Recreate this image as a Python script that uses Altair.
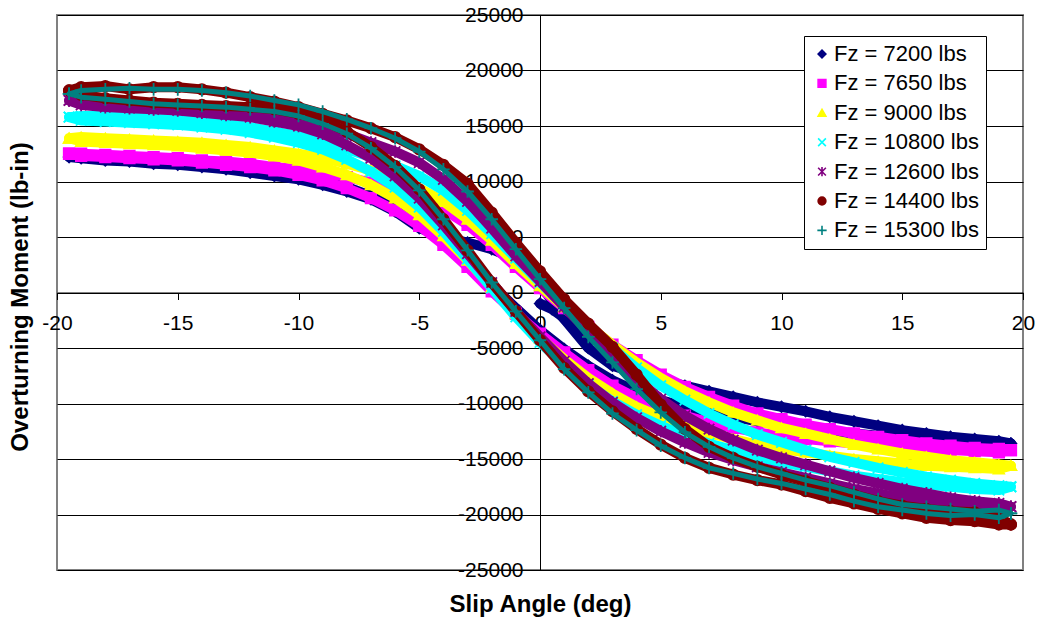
import altair as alt
import pandas as pd

FONT = "Liberation Sans"

# slip angle grid (deg) shared by both sweep branches
slip = [-19.5, -19, -18, -17, -16, -15, -14, -13, -12, -11, -10, -9, -8, -7, -6, -5, -4, -3, -2, -1,
        0, 1, 2, 3, 4, 5, 6, 7, 8, 9, 10, 11, 12, 13, 14, 15, 16, 17, 18, 19, 19.5]

names = ["Fz = 7200 lbs", "Fz = 7650 lbs", "Fz = 9000 lbs", "Fz = 10800 lbs",
         "Fz = 12600 lbs", "Fz = 14400 lbs", "Fz = 15300 lbs"]
colors = ["#000080", "#FF00FF", "#FFFF00", "#00FFFF", "#800080", "#800000", "#008080"]
band_widths = [10, 10, 10, 10, 10, 10, 5]
X_PATH = "M-1,-1L1,1M-1,1L1,-1"
AST_PATH = "M-1,-1L1,1M-1,1L1,-1M0,-1.2L0,1.2"
PLUS_PATH = "M-1.2,0L1.2,0M0,-1.2L0,1.2"
shapes = ["diamond", "square", "triangle-up", X_PATH, AST_PATH, "circle", PLUS_PATH]
fills = ["#000080", "#FF00FF", "#FFFF00", "transparent", "transparent", "#800000", "transparent"]

# overturning moment (lb-in): upper branch / lower branch
m7200_up = [12200, 12100, 11900, 11800, 11600, 11500, 11300, 11100, 10800, 10500, 10200, 9700, 9100, 8400, 7300, 5800, 5000, 4500, 3900, 3000,
            800, -2400, -5000, -6600, -7300, -7800, -8400, -8900, -9400, -9900, -10300, -10700, -11200, -11600, -12000, -12400, -12700, -13000, -13200, -13400, -13600]
m7200_dn = [12200, 12200, 12100, 12000, 11900, 11800, 11600, 11400, 11200, 10900, 10600, 10100, 9500, 8700, 7700, 6400, 4800, 2800, 700, -1400,
            -3400, -5100, -6600, -7900, -8900, -9700, -10300, -10800, -11200, -11600, -11900, -12200, -12500, -12700, -12900, -13100, -13300, -13400, -13500, -13600, -13600]
start_slip = [0, 0.5, 1, 1.5, 2]
m7200_start = [-1000, -1500, -2300, -3300, -4500]

m7650_up = [12500, 12500, 12400, 12300, 12200, 12100, 11900, 11800, 11600, 11300, 11100, 10800, 10400, 9900, 9300, 8500, 7500, 6100, 4300, 2300,
            400, -1400, -3100, -4700, -6100, -7400, -8500, -9400, -10200, -10900, -11400, -11900, -12300, -12700, -13000, -13300, -13600, -13800, -14000, -14100, -14200]
m7650_dn = [12500, 12300, 12200, 12100, 12000, 11900, 11700, 11500, 11300, 11000, 10600, 10100, 9400, 8500, 7400, 6000, 4300, 2300, 100, -1900,
            -3700, -5400, -7000, -8400, -9500, -10400, -11100, -11700, -12200, -12600, -12900, -13200, -13400, -13600, -13800, -14000, -14100, -14200, -14300, -14400, -14200]

m9000_up = [13900, 14000, 13900, 13800, 13700, 13600, 13500, 13300, 13100, 12800, 12500, 12100, 11600, 11000, 10300, 9400, 8200, 6600, 4700, 2600,
            600, -1300, -3000, -4700, -6300, -7700, -8900, -9900, -10800, -11500, -12200, -12700, -13200, -13700, -14100, -14500, -14800, -15100, -15300, -15500, -15600]
m9000_dn = [13900, 13600, 13500, 13400, 13300, 13200, 13000, 12800, 12600, 12300, 11900, 11300, 10600, 9700, 8500, 7000, 5100, 2900, 500, -1900,
            -4100, -6000, -7700, -9100, -10300, -11200, -12000, -12700, -13200, -13700, -14100, -14400, -14700, -15000, -15200, -15400, -15600, -15700, -15800, -15900, -15600]

m10800_up = [15800, 15900, 15900, 15800, 15700, 15600, 15400, 15200, 14900, 14500, 14100, 13500, 12900, 12200, 11400, 10500, 9200, 7400, 5300, 3100,
             900, -1200, -3100, -5000, -6800, -8400, -9700, -10900, -11900, -12800, -13500, -14200, -14800, -15300, -15800, -16200, -16600, -16900, -17200, -17400, -17500]
m10800_dn = [15800, 15500, 15400, 15300, 15200, 15100, 14900, 14700, 14400, 14000, 13500, 12900, 12000, 10900, 9500, 7700, 5500, 3000, 400, -2200,
             -4500, -6500, -8300, -9800, -11000, -12000, -12900, -13600, -14200, -14800, -15300, -15700, -16100, -16500, -16800, -17100, -17300, -17500, -17700, -17800, -17500]

m12600_up = [17300, 17200, 17100, 17000, 16900, 16800, 16700, 16500, 16300, 16000, 15600, 15000, 14300, 13500, 12700, 11700, 10200, 8200, 5800, 3300,
             1000, -1300, -3500, -5700, -7800, -9600, -11100, -12300, -13300, -14200, -14900, -15500, -16100, -16700, -17200, -17700, -18100, -18500, -18800, -19000, -19300]
m12600_dn = [17300, 16900, 16700, 16600, 16500, 16400, 16200, 16000, 15800, 15400, 15000, 14300, 13300, 12100, 10500, 8500, 6100, 3500, 900, -1700,
             -4000, -6200, -8200, -9900, -11300, -12500, -13500, -14400, -15100, -15700, -16200, -16700, -17200, -17700, -18100, -18500, -18800, -19100, -19300, -19500, -19300]

m14400_up = [18200, 18500, 18600, 18300, 18500, 18500, 18300, 18000, 17600, 17200, 16700, 16100, 15500, 14800, 14000, 12900, 11500, 9800, 7200, 4500,
             1900, -600, -2800, -4900, -7400, -10100, -12300, -13900, -14900, -15700, -16400, -17000, -17600, -18200, -18800, -19200, -19500, -19700, -19800, -20300, -20900]
m14400_dn = [18200, 17800, 17500, 17300, 17100, 17000, 16900, 16800, 16700, 16500, 16100, 15500, 14500, 13100, 11400, 9300, 6600, 3800, 900, -1700,
             -4300, -6800, -8900, -10700, -12300, -13700, -14900, -15800, -16400, -16900, -17300, -17900, -18500, -19000, -19500, -19900, -20300, -20500, -20600, -20900, -20900]

m15300_up = [17900, 18200, 18300, 18400, 18300, 18300, 18200, 18000, 17700, 17300, 16900, 16300, 15600, 14800, 13900, 12700, 11100, 9100, 6600, 3900,
             1200, -1400, -4000, -6300, -8700, -10800, -12600, -13900, -14900, -15700, -16300, -16900, -17400, -18000, -18600, -19100, -19300, -19500, -19700, -19600, -19900]
m15300_dn = [17900, 17600, 17400, 17200, 17000, 16900, 16800, 16700, 16500, 16300, 15900, 15200, 14300, 13000, 11300, 9200, 6600, 3800, 900, -1700,
             -4300, -6900, -9000, -10900, -12400, -13800, -14900, -15800, -16300, -16800, -17200, -17700, -18200, -18800, -19300, -19600, -19900, -20100, -20000, -20300, -19900]

branches = [
    [("up", slip, m7200_up), ("down", slip, m7200_dn), ("start", start_slip, m7200_start)],
    [("up", slip, m7650_up), ("down", slip, m7650_dn)],
    [("up", slip, m9000_up), ("down", slip, m9000_dn)],
    [("up", slip, m10800_up), ("down", slip, m10800_dn)],
    [("up", slip, m12600_up), ("down", slip, m12600_dn)],
    [("up", slip, m14400_up), ("down", slip, m14400_dn)],
    [("up", slip, m15300_up), ("down", slip, m15300_dn)],
]

rows = []
for name, brs in zip(names, branches):
    for b, xs, ys in brs:
        for k, (xv, yv) in enumerate(zip(xs, ys)):
            rows.append({"series": name, "branch": b, "k": k, "slip": xv, "moment": yv})
df = pd.DataFrame(rows)

W, H = 966, 555

x_axis = alt.Axis(
    values=[-20, -15, -10, -5, 0, 5, 10, 15, 20], orient="bottom", offset=-H / 2,
    grid=False, domainColor="#000000", domainWidth=1, tickColor="#000000", tickSize=7, tickWidth=1,
    labelFont=FONT, labelFontSize=21, labelColor="#000000", labelPadding=13,
    labelFlush=False, labelOverlap=False, labelExpr="'' + datum.value",
    title="Slip Angle (deg)", titleFont=FONT, titleFontSize=24, titleFontWeight="bold",
    titleColor="#000000", titleX=W / 2, titleY=312, titleAlign="center", titleBaseline="middle",
)
y_axis = alt.Axis(
    values=[25000, 20000, 15000, 10000, 5000, 0, -5000, -10000, -15000, -20000, -25000],
    orient="left", offset=-W / 2,
    grid=True, gridColor="#000000", gridWidth=1, gridOpacity=1,
    domainColor="#000000", domainWidth=1, tickColor="#000000", tickSize=7, tickWidth=1,
    labelFont=FONT, labelFontSize=21, labelColor="#000000", labelPadding=10,
    labelFlush=False, labelOverlap=False, labelExpr="'' + datum.value",
    title="Overturning Moment (lb-in)", titleFont=FONT, titleFontSize=24, titleFontWeight="bold",
    titleColor="#000000", titleX=-W / 2 - 37, titleY=H / 2 + 4, titleAngle=270,
    titleAlign="center", titleBaseline="middle",
)

x_enc = alt.X("slip:Q", scale=alt.Scale(domain=[-20, 20], nice=False, zero=False), axis=x_axis)
y_enc = alt.Y("moment:Q", scale=alt.Scale(domain=[-25000, 25000], nice=False), axis=y_axis)

legend = alt.Legend(title=None, orient="none", legendX=747, legendY=21)
shape_enc = alt.Shape("series:N", scale=alt.Scale(domain=names, range=shapes), legend=legend)
fill_enc = alt.Fill("series:N", scale=alt.Scale(domain=names, range=fills), legend=legend)
stroke_enc = alt.Stroke("series:N", scale=alt.Scale(domain=names, range=colors), legend=legend)

layers = []
for i, name in enumerate(names):
    base = alt.Chart(df).transform_filter(alt.datum.series == name)
    line = base.mark_line(color=colors[i], strokeWidth=band_widths[i], strokeJoin="round", strokeCap="round").encode(
        x=x_enc, y=y_enc, detail="branch:N", order="k:Q")
    pts = base.mark_point(size=110, strokeWidth=1.8, opacity=1).encode(
        x=x_enc, y=y_enc, shape=shape_enc, fill=fill_enc, stroke=stroke_enc)
    layers += [line, pts]

chart = alt.layer(*layers).properties(
    width=W, height=H,
    padding={"left": 57, "top": 15, "right": 14, "bottom": 55},
    autosize=alt.AutoSizeParams(type="none"),
).configure_view(
    stroke="#808080", strokeWidth=2
).configure_legend(
    strokeColor="#000000", fillColor="#FFFFFF", padding=7, cornerRadius=0,
    labelFont=FONT, labelFontSize=22, labelColor="#000000", labelLimit=300,
    symbolSize=60, symbolStrokeWidth=1.6, rowPadding=7.4, labelOffset=1,
)

chart.save("out.html", embed_options={"renderer": "svg", "actions": False})
